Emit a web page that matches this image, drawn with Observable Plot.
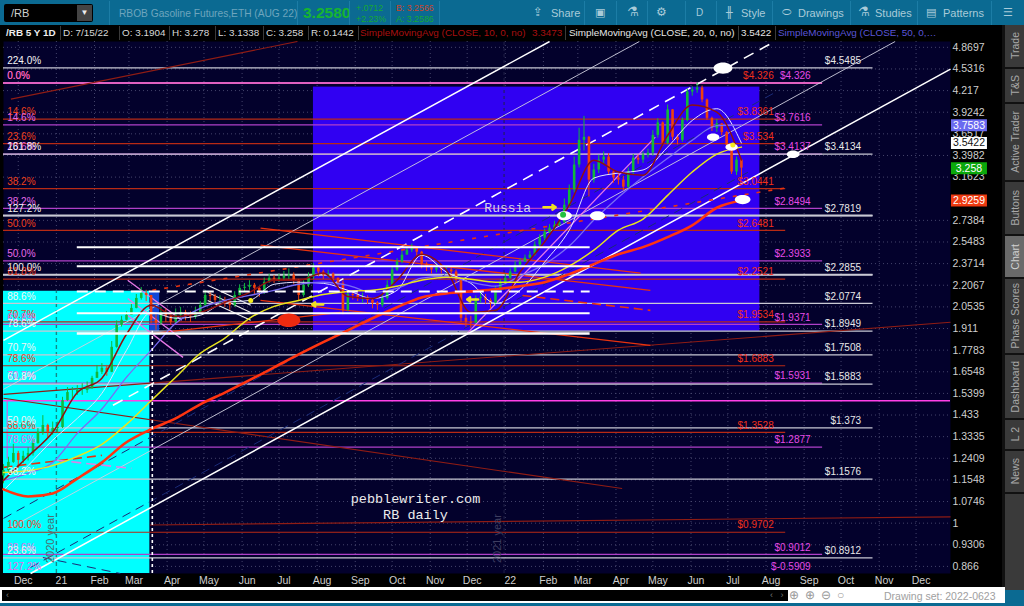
<!DOCTYPE html>
<html>
<head>
<meta charset="utf-8">
<script src="https://cdn.jsdelivr.net/npm/d3@7"></script>
<script src="https://cdn.jsdelivr.net/npm/@observablehq/plot@0.6"></script>
<style>
html,body{margin:0;padding:0;background:#0b6a92;}
#page{position:relative;width:1024px;height:606px;overflow:hidden;font-family:"Liberation Sans",Arial,sans-serif;background:#0b6a92;}
.t{position:absolute;white-space:nowrap;}
.tb{color:#a9cbd9;font-size:11px;top:7px;}
.st{top:27px;font-size:9.9px;color:#d8d8d8;}
.sep{position:absolute;top:1px;height:24px;width:1px;background:#1c7da6;}
.cell{position:absolute;top:26px;height:14px;width:1px;background:#3a3a3a;}
.tab{position:absolute;left:1005px;width:19px;background:#3a3a3a;color:#a8a8a8;font-size:10.5px;display:flex;align-items:center;justify-content:center;}
.tab span{writing-mode:vertical-rl;transform:rotate(180deg);white-space:nowrap;}
#chart{position:absolute;left:0;top:41px;}
</style>
</head>
<body>
<div id="page">
  <div class="t" style="left:4px;top:4px;width:89px;height:18px;background:#000;border-radius:2px;color:#cfcfcf;font-size:11px;line-height:18px;text-indent:7px;">/RB</div>
  <div class="t" style="left:77px;top:5px;width:15px;height:16px;background:#444;color:#eee;font-size:8px;line-height:16px;text-align:center;">▼</div>
  <div class="t tb" style="left:119px;color:#6ea5bd;font-size:10.2px;top:8px;">RBOB Gasoline Futures,ETH (AUG 22)</div>
  <div class="t" style="left:303px;top:4px;font-size:15.5px;font-weight:bold;color:#17b531;">3.2580</div>
  <div class="t" style="left:356px;top:3px;font-size:8.8px;line-height:11px;color:#16a832;">+.0712<br>+2.23%</div>
  <div class="t" style="left:396px;top:3px;font-size:8.8px;line-height:11px;color:#c8452a;">B: 3.2566<br><span style="color:#16a832">A: 3.2586</span></div>
  <div class="sep" style="left:109px"></div><div class="sep" style="left:297px"></div><div class="sep" style="left:349px"></div><div class="sep" style="left:390px"></div><div class="sep" style="left:439px"></div>
  <div class="sep" style="left:584px"></div><div class="sep" style="left:616px"></div><div class="sep" style="left:647px"></div><div class="sep" style="left:685px"></div><div class="sep" style="left:716px"></div><div class="sep" style="left:772px"></div><div class="sep" style="left:850px"></div><div class="sep" style="left:917px"></div><div class="sep" style="left:991px"></div>
  <div class="t tb" style="left:533px;font-family:'DejaVu Sans';font-size:12px;top:5px;">⇪</div>
  <div class="t tb" style="left:551px;">Share</div>
  <div class="t tb" style="left:595px;font-family:'DejaVu Sans';font-size:11px;top:6px;">▣</div>
  <div class="t tb" style="left:627px;font-family:'DejaVu Sans';font-size:13px;top:4px;">⚗</div>
  <div class="t tb" style="left:656px;font-family:'DejaVu Sans';font-size:12px;top:5px;">⚙</div>
  <div class="t tb" style="left:696px;font-size:10px;">D</div>
  <div class="t tb" style="left:726px;font-family:'DejaVu Sans';font-size:11px;top:6px;">╫</div>
  <div class="t tb" style="left:741px;">Style</div>
  <div class="t tb" style="left:782px;font-family:'DejaVu Sans';font-size:11px;top:6px;">⬭</div>
  <div class="t tb" style="left:798px;">Drawings</div>
  <div class="t tb" style="left:858px;font-family:'DejaVu Sans';font-size:13px;top:4px;">⚗</div>
  <div class="t tb" style="left:875px;">Studies</div>
  <div class="t tb" style="left:926px;font-family:'DejaVu Sans';font-size:11px;top:6px;">▤</div>
  <div class="t tb" style="left:943px;">Patterns</div>
  <div class="t tb" style="left:1003px;font-family:'DejaVu Sans';font-size:11px;top:6px;">☰</div>

  <div class="t" style="left:0;top:25px;width:1024px;height:16px;background:#000;"></div>
  <div class="t st" style="left:6px;font-weight:bold;color:#eee;">/RB 5 Y 1D</div>
  <div class="cell" style="left:60px"></div>
  <div class="t st" style="left:63px;">D: 7/15/22</div>
  <div class="cell" style="left:119px"></div>
  <div class="t st" style="left:122px;">O: 3.1904</div>
  <div class="cell" style="left:169px"></div>
  <div class="t st" style="left:172px;">H: 3.278</div>
  <div class="cell" style="left:215px"></div>
  <div class="t st" style="left:218px;">L: 3.1338</div>
  <div class="cell" style="left:263px"></div>
  <div class="t st" style="left:266px;">C: 3.258</div>
  <div class="cell" style="left:308px"></div>
  <div class="t st" style="left:311px;">R: 0.1442</div>
  <div class="cell" style="left:358px"></div>
  <div class="t st" style="left:360px;color:#a80f0f;">SimpleMovingAvg (CLOSE, 10, 0, no)</div>
  <div class="t st" style="left:532px;color:#a80f0f;">3.3473</div>
  <div class="cell" style="left:565px"></div>
  <div class="t st" style="left:569px;color:#e6e6e6;">SimpleMovingAvg (CLOSE, 20, 0, no)</div>
  <div class="cell" style="left:738px"></div>
  <div class="t st" style="left:741px;color:#e6e6e6;">3.5422</div>
  <div class="cell" style="left:775px"></div>
  <div class="t st" style="left:778px;color:#5a55d8;">SimpleMovingAvg (CLOSE, 50, 0,…</div>

  <div id="chart"></div>

  <div class="t" style="left:1002px;top:25px;width:22px;height:565px;background:#111;"></div>
  <div class="tab" style="top:25px;height:42px;"><span>Trade</span></div>
  <div class="tab" style="top:69px;height:33px;"><span>T&amp;S</span></div>
  <div class="tab" style="top:104px;height:76px;"><span>Active Trader</span></div>
  <div class="tab" style="top:182px;height:52px;"><span>Buttons</span></div>
  <div class="tab" style="top:236px;height:41px;background:#6a6a6a;color:#d0d0d0;"><span>Chart</span></div>
  <div class="tab" style="top:279px;height:74px;"><span>Phase Scores</span></div>
  <div class="tab" style="top:355px;height:63px;"><span>Dashboard</span></div>
  <div class="tab" style="top:420px;height:29px;"><span>L 2</span></div>
  <div class="tab" style="top:451px;height:41px;"><span>News</span></div>
  <div class="tab" style="top:494px;height:96px;"></div>

  <div class="t" style="left:0;top:587px;width:1005px;height:16px;background:#fff;"></div>
  <div class="t" style="left:2px;top:590px;width:786px;height:11px;background:#000;"></div>
  <div class="t" style="left:6px;top:590px;color:#777;font-size:9px;line-height:11px;">‹</div>
  <div class="t" style="left:770px;top:590px;color:#777;font-size:9px;line-height:11px;">‹&nbsp;&nbsp;&nbsp;›</div>
  <div class="t" style="left:789px;top:588px;color:#999;font-size:12px;letter-spacing:6px;">⊕⊕⊖○</div>
  <div class="t" style="left:884px;top:590px;color:#a0a0a0;font-size:10.5px;">Drawing set: 2022-0623</div>
</div>
<script>
// Price axis and time axis
const yTicks = [4.8697,4.5316,4.217,3.9242,3.6517,3.3982,3.1623,2.7384,2.5483,2.3714,2.2067,2.0535,1.911,1.7783,1.6548,1.5399,1.433,1.3335,1.2409,1.1548,1.0746,1,0.9306,0.866];
const monthTicks = ["2020-12-01","2021-01-01","2021-02-01","2021-03-01","2021-04-01","2021-05-01","2021-06-01","2021-07-01","2021-08-01","2021-09-01","2021-10-01","2021-11-01","2021-12-01","2022-01-01","2022-02-01","2022-03-01","2022-04-01","2022-05-01","2022-06-01","2022-07-01","2022-08-01","2022-09-01","2022-10-01","2022-11-01","2022-12-01"];
const monthLabels = ["Dec","21","Feb","Mar","Apr","May","Jun","Jul","Aug","Sep","Oct","Nov","Dec","22","Feb","Mar","Apr","May","Jun","Jul","Aug","Sep","Oct","Nov","Dec"];

// Daily-ish bars, one every 4 days
const closes = [1.191,1.224,1.261,1.232,1.249,1.261,1.304,1.353,1.384,1.353,1.371,1.375,1.503,1.544,1.544,1.555,1.555,1.566,1.619,1.652,1.674,1.652,1.795,1.931,1.964,1.997,2.043,2.112,2.147,2.133,1.964,1.944,2.010,1.990,1.951,1.997,2.016,1.990,1.984,2.016,2.064,2.133,2.126,2.098,2.098,2.084,2.064,2.133,2.184,2.192,2.206,2.184,2.155,2.229,2.259,2.251,2.259,2.274,2.282,2.244,2.133,2.206,2.267,2.337,2.306,2.282,2.290,2.259,2.221,2.030,2.140,2.133,2.119,2.119,2.098,2.077,2.064,2.112,2.206,2.321,2.384,2.439,2.480,2.497,2.463,2.367,2.344,2.321,2.337,2.321,2.321,2.306,2.244,1.977,1.951,1.944,2.112,2.119,2.098,2.077,2.170,2.221,2.259,2.306,2.359,2.384,2.415,2.439,2.522,2.581,2.633,2.668,2.694,2.720,2.880,3.030,3.292,3.574,3.610,3.131,3.238,3.346,3.380,3.216,3.152,3.131,3.058,3.216,3.367,3.346,3.402,3.425,3.633,3.787,3.538,3.955,3.610,3.574,3.818,4.197,4.225,4.253,4.087,3.845,3.718,3.774,3.667,3.516,3.216,3.346,3.258];
const highs = [1.215,1.245,1.30,1.27,1.27,1.285,1.32,1.37,1.43,1.39,1.40,1.40,1.52,1.57,1.57,1.58,1.59,1.60,1.63,1.69,1.70,1.69,1.83,1.96,1.99,2.02,2.07,2.14,2.19,2.17,2.10,2.00,2.05,2.04,2.01,2.04,2.05,2.03,2.02,2.05,2.09,2.17,2.16,2.14,2.13,2.12,2.10,2.16,2.21,2.22,2.24,2.22,2.19,2.26,2.29,2.28,2.29,2.31,2.33,2.30,2.25,2.24,2.30,2.37,2.35,2.32,2.32,2.30,2.26,2.24,2.17,2.16,2.15,2.15,2.13,2.11,2.09,2.14,2.24,2.35,2.41,2.47,2.51,2.53,2.50,2.47,2.38,2.36,2.37,2.35,2.35,2.34,2.32,2.25,2.00,1.99,2.13,2.15,2.14,2.11,2.20,2.25,2.29,2.33,2.39,2.41,2.44,2.47,2.55,2.61,2.66,2.70,2.73,2.76,2.94,3.08,3.38,3.72,3.87,3.62,3.30,3.40,3.44,3.42,3.24,3.20,3.17,3.26,3.41,3.40,3.44,3.47,3.69,3.84,3.80,4.02,3.96,3.64,3.85,4.24,4.27,4.326,4.28,4.10,3.86,3.83,3.78,3.68,3.53,3.38,3.278];
const lows = [1.14,1.18,1.22,1.20,1.22,1.23,1.25,1.30,1.34,1.33,1.34,1.35,1.37,1.50,1.51,1.53,1.53,1.54,1.56,1.62,1.64,1.63,1.65,1.79,1.92,1.96,2.00,2.04,2.10,2.09,1.94,1.90,1.93,1.95,1.93,1.94,1.98,1.96,1.95,1.97,2.01,2.05,2.09,2.07,2.07,2.05,2.03,2.05,2.13,2.16,2.17,2.14,2.12,2.14,2.22,2.22,2.23,2.24,2.25,2.21,2.09,2.12,2.19,2.25,2.27,2.25,2.26,2.23,2.19,2.00,2.02,2.10,2.09,2.08,2.07,2.04,2.03,2.05,2.10,2.20,2.31,2.37,2.44,2.46,2.43,2.33,2.31,2.29,2.30,2.29,2.29,2.27,2.22,1.95,1.92,1.91,1.95,2.08,2.07,2.04,2.06,2.16,2.21,2.25,2.30,2.35,2.38,2.41,2.43,2.51,2.56,2.62,2.65,2.68,2.71,2.85,3.00,3.26,3.45,2.96,3.10,3.20,3.30,3.18,3.10,3.08,3.02,3.04,3.19,3.30,3.31,3.37,3.39,3.60,3.50,3.52,3.57,3.52,3.55,3.80,4.14,4.18,4.05,3.82,3.68,3.67,3.63,3.49,3.19,3.18,3.134];
const firstBar = new Date("2020-11-19");

// Moving averages, one reading every 20 days
const sma10 = [1.153,1.249,1.353,1.544,1.619,1.875,2.064,1.990,2.016,2.084,2.155,2.244,2.244,2.298,2.126,2.112,2.244,2.447,2.321,2.016,2.030,2.306,2.550,2.880,3.346,3.216,3.183,3.633,4.020,3.925,3.3473];
const sma20 = [1.115,1.211,1.318,1.417,1.540,1.777,2.016,1.977,1.997,2.084,2.098,2.214,2.229,2.221,2.170,2.112,2.170,2.439,2.306,2.221,2.077,2.170,2.384,2.650,3.152,3.205,3.238,3.494,3.818,3.970,3.5422];
const sma50 = [1.153,1.180,1.224,1.348,1.462,1.625,1.777,1.944,2.043,2.098,2.133,2.170,2.214,2.229,2.206,2.155,2.184,2.259,2.274,2.229,2.200,2.274,2.367,2.514,2.741,2.958,3.164,3.367,3.574,3.752,3.7583];
const sma100 = [1.184,1.191,1.211,1.249,1.300,1.389,1.503,1.625,1.759,1.851,1.977,2.057,2.098,2.140,2.162,2.170,2.200,2.244,2.267,2.251,2.229,2.229,2.267,2.352,2.480,2.650,2.750,2.976,3.216,3.414,3.494];
const sma200 = [1.119,1.093,1.104,1.160,1.224,1.309,1.367,1.417,1.485,1.544,1.609,1.679,1.753,1.826,1.899,1.977,2.051,2.119,2.147,2.162,2.177,2.200,2.229,2.290,2.367,2.447,2.505,2.590,2.694,2.856,2.9259];

// Fibonacci level sets
const whiteLevels = [4.5485,3.4134,2.7819,2.2855,2.0774,1.8949,1.7508,1.5883,1.373,1.1576,0.8912];
const whitePcts = ["224.0%","161.8%","127.2%","100.0%","88.6%","78.6%","70.7%","61.8%","50.0%","38.2%","23.6%"];
const pinkLevels = [4.326,3.7616,3.4137,2.8494,2.3933,1.9371,1.5931,1.2877,0.9012];
const pinkPcts = ["0.0%","14.6%","23.6%","38.2%","50.0%","61.8%","70.7%","78.6%","88.6%"];
const redLevels = [4.326,3.8361,3.534,3.0441,2.6481,2.2521,1.9534,1.6883,1.3528,0.9702];
const redPcts = ["0.0%","14.6%","23.6%","38.2%","50.0%","61.8%","70.7%","78.6%","88.6%","100.0%"];
const segmentLevels = [2.505,2.35,2.162,2.01,1.88];

// Trend lines: start date, start price, end date, end price
const whiteTrends = [["2020-12-11",0.8458,"2022-12-29",4.53],["2020-11-19",1.8375,"2022-02-06",4.965]];
const thinTrends = [["2020-11-19",1.561,"2022-04-20",4.965],["2020-11-25",0.986,"2022-11-14",4.965]];
const dashTrend = [["2021-02-16",1.48,"2022-08-08",4.965]];
const navyTrends = [["2020-11-19",1.016,"2022-08-12",4.225],["2020-12-11",0.863,"2022-07-19",3.226],["2020-12-21",0.892,"2021-02-22",0.8458]];
const pinkTrends = [["2021-12-01",1.88,"2022-05-03",3.612],["2021-02-28",2.244,"2021-04-13",1.964],["2021-02-28",2.112,"2021-04-12",1.851],["2021-02-28",1.997,"2021-04-14",1.736]];
const flagTrends = [["2021-05-04",2.206,"2021-06-08",2.064],["2021-05-04",2.155,"2021-06-08",2.016],["2021-05-04",2.098,"2021-06-08",1.964]];
const redTrends = [["2021-06-16",2.668,"2022-04-21",2.298],["2021-06-16",2.522,"2022-04-29",2.17],["2021-06-16",2.098,"2022-04-29",1.807],["2021-03-21",1.88,"2021-08-20",2.016]];
const redDashed = [["2022-01-15",2.133,"2022-04-29",2.03],["2020-11-19",1.204,"2021-02-07",1.253]];
const redDotted = [["2021-03-20",2.17,"2022-08-21",3.058]];
const pinkDashed = [["2021-01-01",1.233,"2021-03-03",1.2]];
const darkTrends = [["2020-11-25",4.099,"2021-07-16",4.965],["2020-11-19",1.535,"2022-12-29",1.951],["2020-11-19",1.515,"2022-04-06",1.122],["2021-03-18",0.994,"2022-12-29",1.021]];

// Annotations
const whiteEllipses = [["2022-06-27",4.545,7],["2022-08-23",3.413,4.7],["2022-07-13",2.935,5.8],["2022-02-18",2.78,5.6],["2022-03-17",2.78,5.6],["2022-06-19",3.612,4.6],["2022-07-04",3.494,4.6]];
const redEllipses = [["2021-07-09",1.964,8.5]];
const yellowDots = [["2021-06-08",2.098,2.5],["2022-07-05",3.52,2.5]];
const greenDots = [["2022-02-17",2.79,3]];
const yellowArrows = [["2022-02-01",2.86,"2022-02-11",2.86],["2021-08-06",2.07,"2021-07-28",2.07],["2021-12-10",2.105,"2021-12-01",2.105]];
const axisTags = [[3.7583,"#6a6af0","#fff"],[3.5422,"#ffffff","#111"],[3.258,"#0ba80b","#fff"],[2.9259,"#ee3a10","#fff"]];

const D = s => new Date(s);
const xStart = D("2020-11-19"), xEnd = D("2022-12-29"), yLo = 0.8458, yHi = 4.965;
const labelLeft = D("2020-11-22");
const whiteEnd = D("2022-10-27"), pinkEnd = D("2022-09-16"), redEnd = D("2022-08-17"), segStart = D("2021-01-18"), segEnd = D("2022-03-11");
const tagX = D("2023-01-13");

const bars = closes.map((c,i)=>({date:d3.utcDay.offset(firstBar,4*i),close:c,open:i?closes[i-1]:1.17,high:highs[i],low:lows[i]}));
const smaRows = arr => arr.map((v,i)=>({date:d3.utcDay.offset(firstBar,20*i),v}));
const tr = rows => rows.map(r=>({x1:D(r[0]),y1:r[1],x2:D(r[2]),y2:r[3]}));
const link = (rows,o) => Plot.link(tr(rows),{x1:"x1",y1:"y1",x2:"x2",y2:"y2",...o});
const ellipseSymbol = {draw(ctx,size){const r=Math.sqrt(size/Math.PI),a=r*1.35,b=r*.8,k=.5523;
  ctx.moveTo(a,0);ctx.bezierCurveTo(a,b*k,a*k,b,0,b);ctx.bezierCurveTo(-a*k,b,-a,b*k,-a,0);
  ctx.bezierCurveTo(-a,-b*k,-a*k,-b,0,-b);ctx.bezierCurveTo(a*k,-b,a,-b*k,a,0);ctx.closePath();}};
const tagSymbol = {draw(ctx){ctx.moveTo(-18,-6);ctx.lineTo(18,-6);ctx.lineTo(18,6);ctx.lineTo(-18,6);ctx.closePath();}};
const dots = (rows,o) => Plot.dot(rows,{x:d=>D(d[0]),y:d=>d[1],r:d=>d[2],...o});
const smaLine = (arr,stroke,w) => Plot.line(smaRows(arr),{x:"date",y:"v",stroke,strokeWidth:w,curve:"monotone-x"});
const fibText = (levels,end,fill) => Plot.text(levels,{x:()=>end,y:d=>d,text:d=>"$"+d,textAnchor:"end",dx:-12,dy:-7,fill,fontSize:10});
const pctText = (levels,pcts,fill) => Plot.text(levels,{x:()=>labelLeft,y:d=>d,text:(d,i)=>pcts[i],textAnchor:"start",dy:-7,fill,fontSize:10});
const hrule = (levels,end,stroke,w) => Plot.ruleY(levels,{x1:()=>xStart,x2:()=>end,y:d=>d,stroke,strokeWidth:w});

const chart = Plot.plot({
  width:1024, height:546, marginTop:0, marginBottom:14, marginLeft:3, marginRight:74,
  style:{background:"#000",color:"#ccc",fontFamily:"Liberation Sans, Arial, sans-serif",fontSize:"10px"},
  x:{type:"utc",domain:[xStart,xEnd],range:[3,950],label:null},
  y:{type:"log",domain:[yLo,yHi],label:null},
  r:{type:"identity"},
  marks:[
    Plot.frame({fill:"#03012c",stroke:null}),
    Plot.gridX(monthTicks.map(D),{stroke:"#55557a",strokeOpacity:.8,strokeDasharray:"1,3"}),
    Plot.gridY(yTicks,{stroke:"#55557a",strokeOpacity:.8,strokeDasharray:"1,3"}),
    Plot.rect([0],{x1:()=>xStart,x2:()=>D("2021-03-18"),y1:()=>yLo,y2:()=>2.163,fill:"#00ffff"}),
    Plot.rect([0],{x1:()=>D("2021-07-29"),x2:()=>D("2022-07-27"),y1:()=>1.893,y2:()=>4.266,fill:"#3000f2"}),
    Plot.rect([0],{x1:()=>D("2021-03-18"),x2:()=>D("2021-03-26"),y1:()=>1.893,y2:()=>2.163,fill:"#1048d8"}),
    Plot.ruleX([D("2021-01-01")],{y1:()=>yLo,y2:()=>2.163,stroke:"#108a8a",strokeWidth:1.4,strokeDasharray:"4,3"}),
    Plot.ruleX([D("2021-12-31")],{y1:()=>yLo,y2:()=>yHi,stroke:"#222248",strokeDasharray:"3,3"}),
    Plot.ruleX([D("2020-11-22")],{y1:()=>1.238,y2:()=>1.503,stroke:"#d060e0",strokeWidth:1.2}),
    Plot.ruleY([1.503],{x1:()=>xStart,x2:()=>xEnd,stroke:"#ff40e8",strokeWidth:1.6}),
    hrule(redLevels,redEnd,"#b82a14",1.2),
    hrule(pinkLevels,pinkEnd,"#b040c8",1.2),
    hrule(whiteLevels,whiteEnd,"#c9c9d4",1.2),
    hrule([2.7819,2.2855],whiteEnd,"#c9c9d4",2),
    hrule([4.326],pinkEnd,"#e060c0",2),
    link(darkTrends,{stroke:"#8f1c14",strokeWidth:1.1}),
    link(navyTrends,{stroke:"#1a2a78",strokeWidth:1,strokeDasharray:"9,6"}),
    link(thinTrends,{stroke:"#d0d0e0",strokeWidth:.9}),
    link(whiteTrends,{stroke:"#ffffff",strokeWidth:1.5}),
    link(dashTrend,{stroke:"#ffffff",strokeWidth:1.6,strokeDasharray:"11,7"}),
    link(redTrends,{stroke:"#e8320e",strokeWidth:1.3}),
    link(redDashed,{stroke:"#e8320e",strokeWidth:1.6,strokeDasharray:"9,5"}),
    link(redDotted,{stroke:"#e8320e",strokeWidth:1.6,strokeDasharray:"4,8"}),
    link(pinkDashed,{stroke:"#e080e8",strokeWidth:1.6,strokeDasharray:"10,5"}),
    link(flagTrends,{stroke:"#f0f0f0",strokeWidth:1.1}),
    link(pinkTrends,{stroke:"#e878e8",strokeWidth:1.3}),
    Plot.ruleX(bars,{x:"date",y1:"low",y2:"high",filter:d=>d.close>=d.open,stroke:"#10b83c",strokeWidth:1}),
    Plot.ruleX(bars,{x:"date",y1:"low",y2:"high",filter:d=>d.close<d.open,stroke:"#f0400e",strokeWidth:1}),
    Plot.ruleX(bars,{x:"date",y1:"open",y2:"close",filter:d=>d.close>=d.open,stroke:"#10b83c",strokeWidth:2.6}),
    Plot.ruleX(bars,{x:"date",y1:"open",y2:"close",filter:d=>d.close<d.open,stroke:"#f0400e",strokeWidth:2.6}),
    smaLine(sma20,"#e4e4ff",1),
    smaLine(sma50,"#7a6cf4",1.3),
    smaLine(sma10,"#8f1010",1.5),
    smaLine(sma100,"#e8e41e",1.5),
    smaLine(sma200,"#ff3410",2.6),
    Plot.ruleY(segmentLevels.filter(v=>v!==2.162&&v!==1.88),{x1:()=>segStart,x2:()=>segEnd,stroke:"#fff",strokeWidth:2}),
    Plot.ruleY([2.162],{x1:()=>segStart,x2:()=>segEnd,stroke:"#fff",strokeWidth:2,strokeDasharray:"11,7"}),
    Plot.ruleY([1.88],{x1:()=>segStart,x2:()=>segEnd,stroke:"#fff",strokeWidth:2.5}),
    Plot.ruleX([D("2021-03-20")],{y1:()=>yLo,y2:()=>1.893,stroke:"#fff",strokeWidth:1.6,strokeDasharray:"3,3"}),
    dots(whiteEllipses,{fill:"#fff",symbol:ellipseSymbol}),
    dots(redEllipses,{fill:"#ee2a10",symbol:ellipseSymbol}),
    dots(yellowDots,{fill:"#f4ec1e"}),
    dots(greenDots,{fill:"#24c040"}),
    Plot.arrow(yellowArrows.map(r=>({x1:D(r[0]),y1:r[1],x2:D(r[2]),y2:r[3]})),{x1:"x1",y1:"y1",x2:"x2",y2:"y2",stroke:"#f0e020",strokeWidth:2.4,headLength:8,headAngle:70}),
    fibText(whiteLevels,whiteEnd,"#e8e8e8"),
    fibText(pinkLevels,pinkEnd,"#e64ae6"),
    fibText(redLevels,redEnd,"#f0301a"),
    Plot.text(["$-0.5909"],{x:()=>pinkEnd,y:()=>0.866,textAnchor:"end",dx:-12,fill:"#e64ae6",fontSize:10,text:d=>d}),
    pctText(redLevels,redPcts,"#f0401a"),
    pctText(pinkLevels,pinkPcts,"#e86ae8"),
    pctText(whiteLevels,whitePcts,"#f4f4f4"),
    Plot.text(["127.2%"],{x:()=>labelLeft,y:()=>0.866,textAnchor:"start",fill:"#e86ae8",fontSize:10,text:d=>d}),
    Plot.text(["pebblewriter.com"],{x:()=>D("2021-10-20"),y:()=>1.086,text:d=>d,fill:"#ececec",fontFamily:"Liberation Mono, monospace",fontSize:13.5}),
    Plot.text(["RB daily"],{x:()=>D("2021-10-20"),y:()=>1.029,text:d=>d,fill:"#ececec",fontFamily:"Liberation Mono, monospace",fontSize:13.5}),
    Plot.text(["Russia"],{x:()=>D("2022-01-03"),y:()=>2.852,text:d=>d,fill:"#d4d4e6",fontFamily:"Liberation Mono, monospace",fontSize:13}),
    Plot.text(["2020 year"],{x:()=>D("2020-12-27"),y:()=>0.95,text:d=>d,rotate:-90,fill:"#4e6e70",fontSize:11}),
    Plot.text(["2021 year"],{x:()=>D("2021-12-26"),y:()=>0.95,text:d=>d,rotate:-90,fill:"#3e3e60",fontSize:11}),
    Plot.axisY({anchor:"right",ticks:yTicks,tickSize:0,tickPadding:2,tickFormat:d=>String(d),label:null,fill:"#cfcfcf",fontSize:10.5}),
    Plot.axisX({anchor:"bottom",ticks:monthTicks.map(D),tickSize:0,tickPadding:3,dx:5,tickFormat:(d,i)=>monthLabels[i],label:null,fill:"#cfcfcf",fontSize:10.5}),
    Plot.dot(axisTags,{x:()=>tagX,y:d=>d[0],r:5,symbol:tagSymbol,fill:d=>d[1]}),
    Plot.text(axisTags,{x:()=>tagX,y:d=>d[0],text:d=>String(d[0]),fill:d=>d[2],fontSize:10.5})
  ]
});
document.getElementById("chart").appendChild(chart);
</script>
</body>
</html>
